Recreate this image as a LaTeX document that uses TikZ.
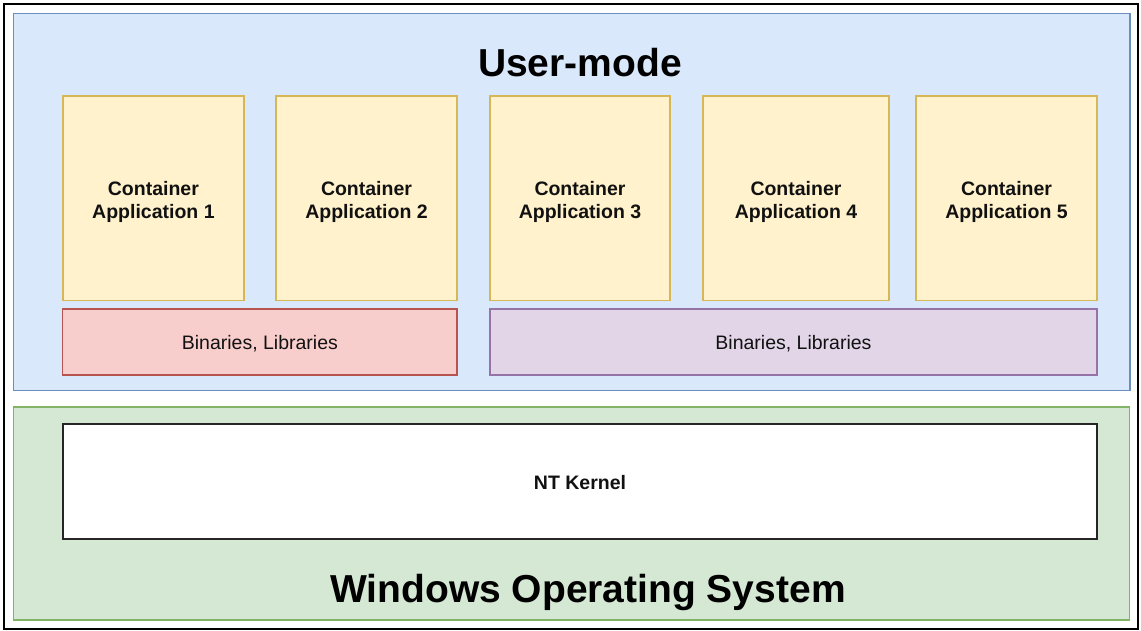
\documentclass[tikz,border=0pt]{standalone}
\usepackage{fontspec}
\setmainfont{Liberation Sans}
\definecolor{bluefill}{HTML}{DAE8FC}
\definecolor{blueline}{HTML}{6C8EBF}
\definecolor{appfill}{HTML}{FFF2CC}
\definecolor{appline}{HTML}{D6B656}
\definecolor{redfill}{HTML}{F8CECC}
\definecolor{redline}{HTML}{B85450}
\definecolor{purplefill}{HTML}{E1D5E7}
\definecolor{purpleline}{HTML}{9673A6}
\definecolor{greenfill}{HTML}{D5E8D4}
\definecolor{greenline}{HTML}{82B366}
\definecolor{textdark}{HTML}{111111}
\tikzset{
  box/.style={draw, rectangle, inner sep=0pt, outer sep=0pt, line width=1.3pt, align=center, text=textdark},
  app/.style={box, fill=appfill, draw=appline, minimum width=181pt, minimum height=204.5pt,
    text height=45pt, text depth=4.1pt,
    font=\bfseries\fontsize{19.5}{23}\selectfont},
  libs/.style={box, minimum height=66pt, text height=18.2pt, text depth=2.9pt,
    font=\fontsize{19.5}{23}\selectfont},
  layer/.style={box, line width=1.5pt},
  title/.style={inner sep=0pt, text=black, font=\bfseries\fontsize{39}{45}\selectfont}
}
\begin{document}
\begin{tikzpicture}[x=1pt,y=-1pt]
\useasboundingbox (0,0) rectangle (1141,631);
\node[draw, line width=2.5pt, rectangle, minimum width=1134pt, minimum height=625pt, inner sep=0pt, outer sep=0pt] (frame) at (571,316.5) {};
\node[layer, fill=bluefill, draw=blueline, minimum width=1116.5pt, minimum height=377pt] (user) at (571.75,202) {};
\node[layer, fill=greenfill, draw=greenline, minimum width=1116pt, minimum height=213pt] (win) at (571.5,513.5) {};
\node[title] (usertitle) at (580,63) {User-mode};
\node[title] (wintitle) at (588,592) {Windows Operating System};
\node[app] (app1) at (153.4,198.25) {Container\\Application 1};
\node[app] (app2) at (366.5,198.25) {Container\\Application 2};
\node[app, minimum width=180pt] (app3) at (580,198.25) {Container\\Application 3};
\node[app, minimum width=186pt] (app4) at (796,198.25) {Container\\Application 4};
\node[app] (app5) at (1006.5,198.25) {Container\\Application 5};
\node[libs, fill=redfill, draw=redline, minimum width=394.3pt] (libsA) at (259.9,342) {Binaries, Libraries};
\node[libs, fill=purplefill, draw=purpleline, minimum width=607pt] (libsB) at (793.5,342) {Binaries, Libraries};
\node[box, fill=white, draw=black!85, line width=1.8pt, minimum width=1034pt, minimum height=115pt,
  text height=16pt, text depth=0pt,
  font=\bfseries\fontsize{19.5}{23}\selectfont] (kernel) at (580,481.5) {NT Kernel};
\end{tikzpicture}
\end{document}
